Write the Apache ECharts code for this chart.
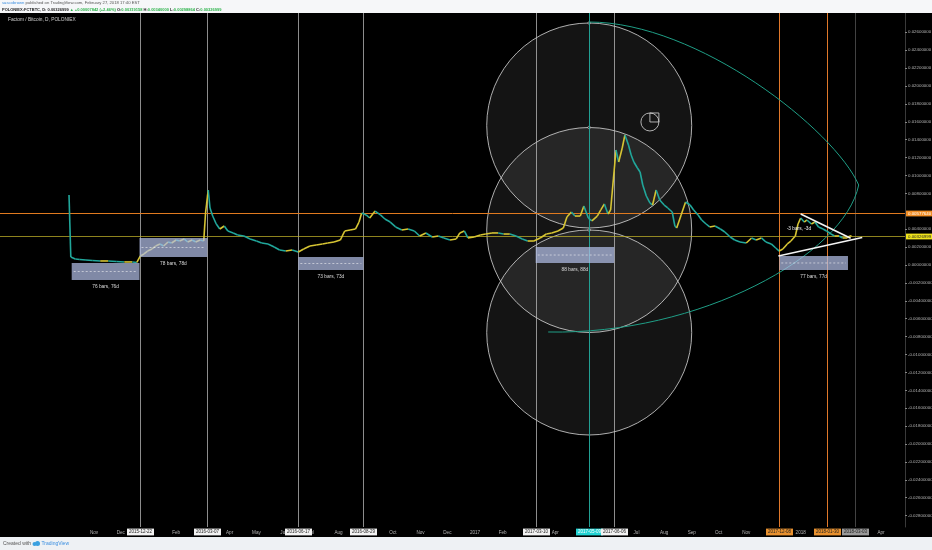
<!DOCTYPE html>
<html><head><meta charset="utf-8">
<script src="https://cdn.jsdelivr.net/npm/echarts@6/dist/echarts.min.js"></script>
<style>html,body{margin:0;padding:0;background:#f5f6f8}#c{width:932px;height:550px}</style>
</head><body><div id="c"></div>
<script>
// ---------------- data ----------------
const priceDates = ['2015-10-04','2015-10-06','2015-10-11','2015-10-16','2015-10-23','2015-10-30','2015-11-08','2015-11-17','2015-11-26','2015-12-05','2015-12-14','2015-12-19','2015-12-23','2015-12-27','2015-12-31','2016-01-05','2016-01-09','2016-01-14','2016-01-18','2016-01-23','2016-01-27','2016-02-01','2016-02-05','2016-02-10','2016-02-14','2016-02-19','2016-02-23','2016-02-28','2016-03-03','2016-03-05','2016-03-08','2016-03-10','2016-03-13','2016-03-17','2016-03-21','2016-03-26','2016-03-30','2016-04-05','2016-04-10','2016-04-17','2016-04-24','2016-05-01','2016-05-07','2016-05-14','2016-05-21','2016-05-27','2016-06-03','2016-06-10','2016-06-17','2016-06-23','2016-06-30','2016-07-07','2016-07-14','2016-07-20','2016-07-27','2016-08-03','2016-08-08','2016-08-14','2016-08-20','2016-08-24','2016-08-27','2016-09-01','2016-09-05','2016-09-11','2016-09-17','2016-09-22','2016-09-28','2016-10-04','2016-10-11','2016-10-18','2016-10-25','2016-10-31','2016-11-07','2016-11-14','2016-11-21','2016-11-27','2016-12-04','2016-12-11','2016-12-15','2016-12-20','2016-12-24','2016-12-31','2017-01-07','2017-01-13','2017-01-20','2017-01-27','2017-02-02','2017-02-09','2017-02-16','2017-02-23','2017-03-01','2017-03-08','2017-03-15','2017-03-22','2017-03-28','2017-04-04','2017-04-10','2017-04-14','2017-04-19','2017-04-23','2017-04-29','2017-05-03','2017-05-08','2017-05-12','2017-05-18','2017-05-22','2017-05-26','2017-05-30','2017-06-02','2017-06-06','2017-06-08','2017-06-11','2017-06-15','2017-06-18','2017-06-22','2017-06-25','2017-06-28','2017-07-02','2017-07-05','2017-07-08','2017-07-12','2017-07-16','2017-07-19','2017-07-23','2017-07-27','2017-08-01','2017-08-05','2017-08-10','2017-08-13','2017-08-15','2017-08-20','2017-08-25','2017-08-30','2017-09-03','2017-09-08','2017-09-12','2017-09-17','2017-09-21','2017-09-27','2017-10-03','2017-10-08','2017-10-14','2017-10-19','2017-10-25','2017-11-01','2017-11-07','2017-11-12','2017-11-18','2017-11-23','2017-11-29','2017-12-04','2017-12-08','2017-12-12','2017-12-17','2017-12-21','2017-12-26','2017-12-29','2018-01-01','2018-01-05','2018-01-08','2018-01-13','2018-01-17','2018-01-21','2018-01-26','2018-01-30','2018-02-04','2018-02-08','2018-02-13','2018-02-17','2018-02-22','2018-02-25','2018-02-27'];
const priceValues = [0.00782,0.00089,0.00067,0.00061,0.00056,0.00050,0.00045,0.00045,0.00039,0.00034,0.00034,0.00028,0.00101,0.00123,0.00156,0.00179,0.00212,0.00235,0.00212,0.00257,0.00246,0.00279,0.00268,0.00291,0.00257,0.00279,0.00257,0.00279,0.00268,0.00581,0.00838,0.00637,0.00547,0.00458,0.00402,0.00436,0.00380,0.00358,0.00335,0.00324,0.00291,0.00268,0.00246,0.00235,0.00201,0.00168,0.00156,0.00168,0.00145,0.00179,0.00212,0.00223,0.00235,0.00246,0.00257,0.00279,0.00380,0.00391,0.00402,0.00480,0.00581,0.00559,0.00525,0.00603,0.00559,0.00514,0.00480,0.00425,0.00391,0.00402,0.00380,0.00324,0.00358,0.00313,0.00324,0.00302,0.00279,0.00291,0.00358,0.00380,0.00302,0.00313,0.00335,0.00346,0.00358,0.00358,0.00346,0.00346,0.00324,0.00291,0.00268,0.00268,0.00302,0.00346,0.00358,0.00380,0.00413,0.00536,0.00592,0.00547,0.00547,0.00659,0.00525,0.00492,0.00547,0.00615,0.00682,0.00570,0.00615,0.01061,0.01285,0.01151,0.01307,0.01453,0.01341,0.01229,0.01151,0.01084,0.01039,0.00894,0.00771,0.00693,0.00670,0.00838,0.00726,0.00670,0.00637,0.00592,0.00436,0.00413,0.00559,0.00704,0.00670,0.00615,0.00559,0.00503,0.00458,0.00425,0.00436,0.00402,0.00369,0.00313,0.00279,0.00257,0.00246,0.00302,0.00279,0.00302,0.00257,0.00235,0.00190,0.00156,0.00179,0.00235,0.00268,0.00324,0.00458,0.00525,0.00480,0.00503,0.00458,0.00480,0.00425,0.00402,0.00380,0.00346,0.00324,0.00324,0.00302,0.00302,0.00324,0.00327];

const yTickValues = [0.026,0.024,0.022,0.020,0.018,0.016,0.014,0.012,0.010,0.008,0.004,0.002,0,-0.002,-0.004,-0.006,-0.008,-0.010,-0.012,-0.014,-0.016,-0.018,-0.020,-0.022,-0.024,-0.026,-0.028];
const xMonthTicks = ['2015-11-01','2015-12-01','2016-02-01','2016-04-01','2016-05-01','2016-06-01','2016-07-01','2016-08-01','2016-10-01','2016-11-01','2016-12-01','2017-01-01','2017-02-01','2017-04-01','2017-07-01','2017-08-01','2017-09-01','2017-10-01','2017-11-01','2018-01-01','2018-04-01'];
const monthNames = ['Jan','Feb','Mar','Apr','May','Jun','Jul','Aug','Sep','Oct','Nov','Dec'];

// vertical date lines
const vlineDates  = ['2015-12-22','2016-03-07','2016-06-17','2016-08-29','2017-03-10','2017-05-09','2017-06-06','2017-12-08','2018-01-30','2018-03-03'];
const vlineLabels = ['2015-12-22','2016-03-07','2016-06-17','2016-08-29','2017-03-10','2017-05-09','2017-06-06','2017-12-08','2018-01-30','2018-03-03'];
const vlineKinds  = ['white','white','white','white','white','cyan','white','orange','orange','gray'];

// date-range boxes
const rangeStarts  = ['2015-10-07','2015-12-22','2016-06-17','2017-03-10','2017-12-08'];
const rangeEnds    = ['2015-12-22','2016-03-07','2016-08-29','2017-06-06','2018-02-23'];
const rangeTops    = [0.00022,0.00302,0.00089,0.00201,0.00101];
const rangeBottoms = [-0.00168,0.00089,-0.00056,0.00022,-0.00056];
const rangeLabels  = ['76 bars, 76d','78 bars, 78d','73 bars, 73d','88 bars, 88d','77 bars, 77d'];

// stacked circles (center date, center price, price of top edge)
const circleDates   = ['2017-05-09','2017-05-09','2017-05-09'];
const circleCenters = [0.015587,0.003911,-0.007542];
const circleTops    = [0.027039,0.015363,0.003910];

// teal arc anchors (two cubic curves): start, ctrl1, ctrl2, end(=start of 2nd), ctrl1, ctrl2, end
const arcDates  = ['2017-05-09','2017-09-08','2018-02-08','2018-03-07','2018-02-19','2017-09-10','2017-03-24'];
const arcPrices = [0.02715,0.02715,0.01508,0.008939,0.001117,-0.007821,-0.007486];

// triangle lines
const triDates  = [['2018-01-01','2018-02-26'],['2017-12-07','2018-03-11']];
const triPrices = [[0.00570,0.00298],[0.00101,0.00307]];

// small circle tool
const smallCircleDate = '2017-07-16', smallCirclePrice = 0.01598, smallCircleTop = 0.016986;

// measure text
const noteDate = '2017-12-30', notePrice = 0.00402, noteText = '-3 bars, -3d';

// horizontal levels
const orangeLevel = 0.00577640;
const lastClose = 0.00326999;

// ---------------- helpers ----------------
const t = s => new Date(s + 'T00:00:00').getTime();
const DAY = 864e5;
const X_MIN = t('2015-11-01') - 105.35 * DAY;
const X_MAX = t('2015-11-01') + 908.9 * DAY;
const Y_MIN = -0.029274, Y_MAX = 0.028156;
const FONT = '"Liberation Sans", Arial, sans-serif';
const UP = '#d6c433', DOWN = '#21a79b';

const segData = [];
for (let i = 1; i < priceDates.length; i++) segData.push([t(priceDates[i]), priceValues[i], t(priceDates[i-1]), priceValues[i-1]]);

const VSTYLE = {
  white:  {line:'rgba(200,200,200,0.7)', bg:'#f2f2f2', text:'#222'},
  cyan:   {line:'#229f93', bg:'#22d3d3', text:'#fff'},
  orange: {line:'#e0782a', bg:'#e8912f', text:'#222'},
  gray:   {line:'rgba(120,120,120,0.55)', bg:'#9a9a9a', text:'#222'}
};

const chart = echarts.init(document.getElementById('c'), null, {renderer:'canvas'});
chart.setOption({
  animation: false,
  backgroundColor: '#000',
  grid: {left: 0, right: 27, top: 13, bottom: 23, containLabel: false, outerBoundsMode: 'none'},
  xAxis: {
    type: 'value', min: X_MIN, max: X_MAX,
    axisLine: {show: false}, axisTick: {show: false}, splitLine: {show: false},
    axisLabel: {
      customValues: xMonthTicks.map(t),
      formatter: v => { const d = new Date(v); return d.getMonth() === 0 ? String(d.getFullYear()) : monthNames[d.getMonth()]; },
      color: '#b4b4b4', fontSize: 4.6, fontFamily: FONT, margin: 3
    }
  },
  yAxis: {
    type: 'value', position: 'right', min: Y_MIN, max: Y_MAX,
    splitLine: {show: false},
    axisLine: {show: true, lineStyle: {color: '#3a3a3a', width: 1}},
    axisTick: {show: true, length: 2, lineStyle: {color: '#888'}, customValues: yTickValues},
    axisLabel: {customValues: yTickValues, formatter: v => v.toFixed(8), color: '#b4b4b4', fontSize: 4.4, fontFamily: FONT, margin: 3}
  },
  graphic: [
    {type:'rect', shape:{x:0,y:0,width:932,height:13}, style:{fill:'#f6f7f9'}, z:100},
    {type:'rect', shape:{x:0,y:537,width:932,height:13}, style:{fill:'#eef1f4'}, z:100},
    {type:'text', x:2, y:1.3, z:101, style:{text:'{u|sascobrown} published on TradingView.com, February 27, 2018 17:40 EST', font:'4.2px ' + FONT, fill:'#555', rich:{u:{fill:'#3a8ee0', font:'4.2px ' + FONT}}}},
    {type:'text', x:2, y:7.6, z:101, style:{
      text:'{b|POLONIEX:FCTBTC, D: 0.00326999 }{g|▲ +0.00007842 (+2.46%)}{b| O:}{g|0.00319158}{b| H:}{g|0.00340000}{b| L:}{g|0.00298864}{b| C:}{g|0.00326999}',
      rich:{b:{fill:'#222', font:'bold 4px ' + FONT}, g:{fill:'#2bb34a', font:'bold 4px ' + FONT}}}},
    {type:'text', x:8, y:17.5, z:101, style:{text:'Factom / Bitcoin, D, POLONIEX', font:'4.8px ' + FONT, fill:'#cfcfcf'}},
    {type:'text', x:3, y:541.5, z:101, style:{text:'Created with', font:'5px ' + FONT, fill:'#555'}},
    {type:'circle', shape:{cx:34.5,cy:544,r:2}, style:{fill:'#3aa0e0'}, z:101},
    {type:'circle', shape:{cx:37.5,cy:543.5,r:2.5}, style:{fill:'#3aa0e0'}, z:101},
    {type:'text', x:41.5, y:541.5, z:101, style:{text:'TradingView', font:'5px ' + FONT, fill:'#3a8ee0'}}
  ],
  series: [
    { // stacked circles
      type:'custom', z:1, silent:true, clip:false,
      data: circleDates.map((d,i)=>[t(d), circleCenters[i], circleTops[i]]),
      encode:{x:0, y:1},
      renderItem(params, api){
        const c = api.coord([api.value(0), api.value(1)]);
        const top = api.coord([api.value(0), api.value(2)]);
        const r = Math.abs(c[1]-top[1]);
        return {type:'group', children:[
          {type:'circle', shape:{cx:c[0], cy:c[1], r:r}, style:{fill:'rgba(255,255,255,0.08)', stroke:'rgba(215,215,215,0.8)', lineWidth:1}},
          {type:'circle', shape:{cx:top[0], cy:top[1], r:1.3}, style:{fill:'#000', stroke:'#ddd', lineWidth:0.6}}
        ]};
      }
    },
    { // vertical date lines + axis boxes
      type:'custom', z:2, silent:true, clip:false,
      data: vlineDates.map((d,i)=>[t(d), 0, i]),
      encode:{x:0, y:1},
      renderItem(params, api){
        const x = Math.round(api.coord([api.value(0), 0])[0]) + 0.5;
        const cs = params.coordSys;
        const i = api.value(2);
        const st = VSTYLE[vlineKinds[i]];
        return {type:'group', children:[
          {type:'line', shape:{x1:x, y1:cs.y, x2:x, y2:cs.y+cs.height}, style:{stroke:st.line, lineWidth:1}},
          {type:'text', x:x, y:cs.y+cs.height+5, z2:10, style:{text:vlineLabels[i], fill:st.text, backgroundColor:st.bg, padding:[1.2,2,0.6,2], font:'4.5px ' + FONT, align:'center', verticalAlign:'middle'}}
        ]};
      }
    },
    { // horizontal levels
      type:'custom', z:2, silent:true, clip:false,
      data: [[X_MIN, orangeLevel, 0],[X_MIN, lastClose, 1]],
      encode:{x:0, y:1},
      renderItem(params, api){
        const y = Math.round(api.coord([api.value(0), api.value(1)])[1]) + 0.5;
        const cs = params.coordSys;
        const k = api.value(2);
        const lineCol = k === 0 ? '#e07a1f' : 'rgba(190,175,40,0.75)';
        const bg = k === 0 ? '#f08d24' : '#f1e51c';
        const fg = k === 0 ? '#fff' : '#222';
        return {type:'group', children:[
          {type:'line', shape:{x1:cs.x, y1:y, x2:cs.x+cs.width, y2:y}, style:{stroke:lineCol, lineWidth:1}},
          {type:'text', x:cs.x+cs.width+1, y:y, z2:10, style:{text:api.value(1).toFixed(8), fill:fg, backgroundColor:bg, padding:[1.2,2,0.6,2], font:'4.4px ' + FONT, align:'left', verticalAlign:'middle'}}
        ]};
      }
    },
    { // price segments
      type:'custom', z:3, silent:true,
      data: segData, encode:{x:[0,2], y:[1,3]},
      renderItem(params, api){
        const p1 = api.coord([api.value(0), api.value(1)]);
        const p0 = api.coord([api.value(2), api.value(3)]);
        return {type:'line', shape:{x1:p0[0], y1:p0[1], x2:p1[0], y2:p1[1]}, style:{stroke: api.value(1) >= api.value(3) ? UP : DOWN, lineWidth:1.6}};
      }
    },
    { // teal arc
      type:'custom', z:4, silent:true, clip:false,
      data: [[t(arcDates[0]), arcPrices[0]]], encode:{x:0, y:1},
      renderItem(params, api){
        const P = arcDates.map((d,i)=>api.coord([t(d), arcPrices[i]]));
        const st = {stroke:'#1f9e86', lineWidth:1, fill:null};
        return {type:'group', children:[
          {type:'bezierCurve', shape:{x1:P[0][0],y1:P[0][1],cpx1:P[1][0],cpy1:P[1][1],cpx2:P[2][0],cpy2:P[2][1],x2:P[3][0],y2:P[3][1]}, style:st},
          {type:'bezierCurve', shape:{x1:P[3][0],y1:P[3][1],cpx1:P[4][0],cpy1:P[4][1],cpx2:P[5][0],cpy2:P[5][1],x2:P[6][0],y2:P[6][1]}, style:st}
        ]};
      }
    },
    { // date-range boxes
      type:'custom', z:5, silent:true, clip:false,
      data: rangeStarts.map((s,i)=>[t(s), rangeTops[i], t(rangeEnds[i]), rangeBottoms[i], i]),
      encode:{x:[0,2], y:[1,3]},
      renderItem(params, api){
        const a = api.coord([api.value(0), api.value(1)]);
        const b = api.coord([api.value(2), api.value(3)]);
        const my = (a[1]+b[1])/2;
        return {type:'group', children:[
          {type:'rect', shape:{x:a[0], y:a[1], width:b[0]-a[0], height:b[1]-a[1]}, style:{fill:'rgba(178,190,230,0.72)'}},
          {type:'line', shape:{x1:a[0]+2, y1:my, x2:b[0]-2, y2:my}, style:{stroke:'rgba(255,255,255,0.75)', lineWidth:0.7, lineDash:[2,2]}},
          {type:'text', x:(a[0]+b[0])/2, y:b[1]+7, style:{text:rangeLabels[api.value(4)], fill:'#dcdcdc', font:'4.8px ' + FONT, align:'center', verticalAlign:'middle'}}
        ]};
      }
    },
    { // triangle lines, small circle tool and note
      type:'custom', z:6, silent:true, clip:false,
      data: [[t(smallCircleDate), smallCirclePrice]], encode:{x:0, y:1},
      renderItem(params, api){
        const kids = [];
        triDates.forEach((pair, k) => {
          const p = api.coord([t(pair[0]), triPrices[k][0]]);
          const q = api.coord([t(pair[1]), triPrices[k][1]]);
          kids.push({type:'line', shape:{x1:p[0],y1:p[1],x2:q[0],y2:q[1]}, style:{stroke:'#f4f4f4', lineWidth:1.6}});
        });
        const c = api.coord([t(smallCircleDate), smallCirclePrice]);
        const top = api.coord([t(smallCircleDate), smallCircleTop]);
        const r = Math.abs(c[1]-top[1]);
        kids.push({type:'circle', shape:{cx:c[0], cy:c[1], r:r}, style:{fill:null, stroke:'#d8d8d8', lineWidth:0.8}});
        kids.push({type:'rect', shape:{x:c[0], y:c[1]-r, width:r, height:r}, style:{fill:null, stroke:'#d8d8d8', lineWidth:0.8}});
        const n = api.coord([t(noteDate), notePrice]);
        kids.push({type:'text', x:n[0], y:n[1], style:{text:noteText, fill:'#f0f0f0', font:'4.8px ' + FONT, align:'center', verticalAlign:'middle'}});
        return {type:'group', children:kids};
      }
    }
  ]
});
</script>
</body></html>
